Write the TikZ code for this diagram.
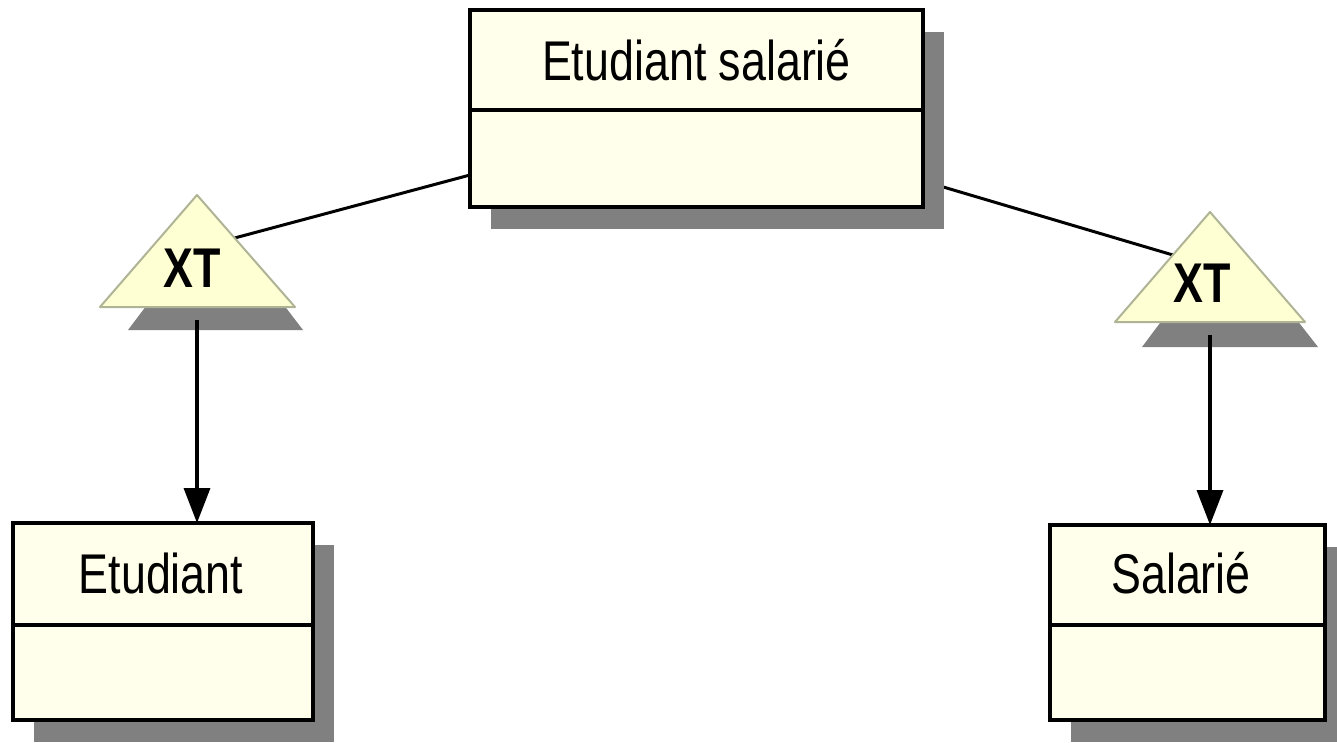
\documentclass[tikz,border=0pt]{standalone}
\usepackage{fontspec}
\setmainfont{Liberation Sans}
\usepackage{graphicx}
\usetikzlibrary{arrows.meta,shadows}
\pgfdeclarelayer{bg}
\pgfsetlayers{bg,main}
\definecolor{boxfill}{RGB}{255,255,236}
\definecolor{trifill}{RGB}{255,255,212}
\definecolor{triedge}{RGB}{176,180,150}
\definecolor{shade}{RGB}{128,128,128}
\tikzset{
 classbox/.style={draw=black, line width=4pt, fill=boxfill, rectangle, inner sep=0pt, outer sep=0pt, anchor=north west,
   drop shadow={shadow xshift=21pt, shadow yshift=-22pt, fill=shade, opacity=1}},
 divider/.style={line width=4pt},
 title/.style={font=\fontsize{56}{60}\selectfont, inner sep=0pt},
 xtlabel/.style={font=\fontsize{56}{60}\selectfont\bfseries, inner sep=0pt},
 tri/.style={draw=triedge, line width=2pt, fill=trifill, line join=round},
 trishadow/.style={fill=shade},
 link/.style={line width=3pt},
 inherit/.style={line width=3.5pt, -{Triangle[width=26pt,length=35pt]}},
}
\begin{document}
\begin{tikzpicture}[x=1pt,y=-1pt]
\useasboundingbox (0,0) rectangle (1337,742);
% class boxes
\node[classbox, minimum width=453pt, minimum height=197pt] (es) at (470,10) {};
\draw[divider] (es.west |- 0,110) -- (es.east |- 0,110);
\node[title] (estitle) at (696.5,60) {\scalebox{0.8}[1]{Etudiant salarié}};

\node[classbox, minimum width=300pt, minimum height=197pt] (et) at (13,523) {};
\draw[divider] (et.west |- 0,625) -- (et.east |- 0,625);
\node[title] (ettitle) at (161,573) {\scalebox{0.8}[1]{Etudiant}};

\node[classbox, minimum width=275pt, minimum height=195pt] (sa) at (1050,525) {};
\draw[divider] (sa.west |- 0,625) -- (sa.east |- 0,625);
\node[title] (satitle) at (1181,573) {\scalebox{0.8}[1]{Salarié}};

% XT triangles
\fill[trishadow] (128,330) -- (303,330) -- (215,215) -- cycle;
\draw[tri] (100,307) -- (295,307) -- (197,195) -- cycle;
\node[xtlabel] (xtl) at (192,268) {\scalebox{0.8}[1]{XT}};
\coordinate (xtlin) at (234.6,238);
\coordinate (xtlout) at (197,320);

\fill[trishadow] (1142,347) -- (1318,347) -- (1228,232) -- cycle;
\draw[tri] (1115,322) -- (1305,322) -- (1210,212) -- cycle;
\node[xtlabel] (xtr) at (1202,283) {\scalebox{0.8}[1]{XT}};
\coordinate (xtrin) at (1172.9,255);
\coordinate (xtrout) at (1210,335);

% connectors
\begin{pgfonlayer}{bg}
\draw[link] ([yshift=32pt]es.south west) -- (xtlin);
\draw[link] ([yshift=26pt]es.south east) -- (xtrin);
\end{pgfonlayer}
\draw[inherit] (xtlout) -- (et.north -| xtlout);
\draw[inherit] (xtrout) -- (sa.north -| xtrout);
\end{tikzpicture}
\end{document}
